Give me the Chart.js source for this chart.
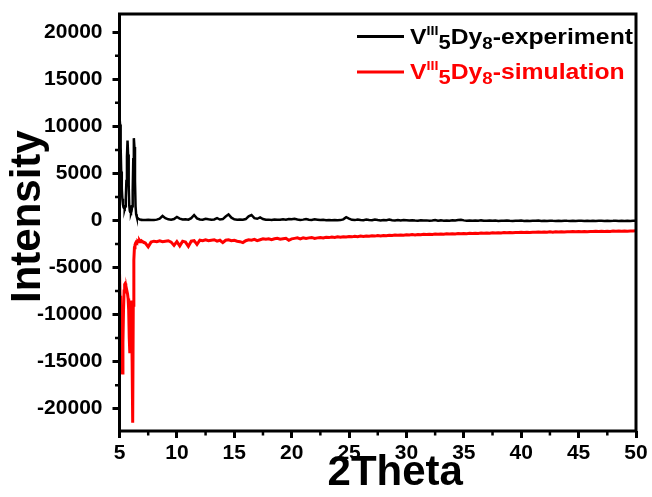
<!DOCTYPE html>
<html>
<head>
<meta charset="utf-8">
<script src="https://cdn.jsdelivr.net/npm/chart.js@4.4.1/dist/chart.umd.min.js"></script>
<style>
  html, body { margin: 0; padding: 0; background: #fff; }
  #c { display: block; }
</style>
</head>
<body>
<canvas id="c" width="652" height="497"></canvas>
<script>
// 2θ positions (degrees): fine steps across the low-angle peaks, then 0.25° steps
const theta = [
  5, 5.05, 5.1, 5.15, 5.2, 5.25, 5.3, 5.35, 5.4, 5.45, 5.5, 5.55, 5.6, 5.65, 5.7, 5.75, 5.8, 5.85, 5.9, 5.95,
  6, 6.05, 6.1, 6.15, 6.2, 6.25, 6.3, 6.35, 6.4, 6.45, 6.5, 6.55, 6.6, 6.65, 6.7, 6.75, 6.8, 6.85, 6.9, 6.95, 7,
  7.25, 7.5, 7.75, 8, 8.25, 8.5, 8.75, 9, 9.25, 9.5, 9.75, 10, 10.25, 10.5, 10.75, 11,
  11.25, 11.5, 11.75, 12, 12.25, 12.5, 12.75, 13, 13.25, 13.5, 13.75, 14, 14.25, 14.5, 14.75, 15,
  15.25, 15.5, 15.75, 16, 16.25, 16.5, 16.75, 17, 17.25, 17.5, 17.75, 18, 18.25, 18.5, 18.75, 19,
  19.25, 19.5, 19.75, 20, 20.25, 20.5, 20.75, 21, 21.25, 21.5, 21.75, 22, 22.25, 22.5, 22.75, 23,
  23.25, 23.5, 23.75, 24, 24.25, 24.5, 24.75, 25, 25.25, 25.5, 25.75, 26, 26.25, 26.5, 26.75, 27,
  27.25, 27.5, 27.75, 28, 28.25, 28.5, 28.75, 29, 29.25, 29.5, 29.75, 30, 30.25, 30.5, 30.75, 31,
  31.25, 31.5, 31.75, 32, 32.25, 32.5, 32.75, 33, 33.25, 33.5, 33.75, 34, 34.25, 34.5, 34.75, 35,
  35.25, 35.5, 35.75, 36, 36.25, 36.5, 36.75, 37, 37.25, 37.5, 37.75, 38, 38.25, 38.5, 38.75, 39,
  39.25, 39.5, 39.75, 40, 40.25, 40.5, 40.75, 41, 41.25, 41.5, 41.75, 42, 42.25, 42.5, 42.75, 43,
  43.25, 43.5, 43.75, 44, 44.25, 44.5, 44.75, 45, 45.25, 45.5, 45.75, 46, 46.25, 46.5, 46.75, 47,
  47.25, 47.5, 47.75, 48, 48.25, 48.5, 48.75, 49, 49.25, 49.5, 49.75, 50
];

// measured powder pattern
const experiment = [
  11000, 10200, 7800, 5200, 3400, 2300, 1700, 1400, 1300, 1250, 1500, 2400, 4200, 6800, 8500, 7000, 3800, 1600, 1000, 850,
  800, 1000, 1500, 3200, 6500, 8750, 7800, 4200, 1500, 650, 400, 300, 250, 180, 150, 120, 100, 90, 80, 70, 60,
  50, 80, 40, 60, 90, 200, 480, 250, 120, 90, 150, 380, 200, 100, 130, 90,
  250, 580, 220, 100, 80, 180, 120, 70, 110, 240, 100, 150, 420, 650, 300, 120,
  90, 110, 80, 150, 450, 580, 250, 180, 320, 150, 70, 90, 60, 110, 80, 70,
  130, 90, 160, 120, 180, 100, 60, 90, 150, 80, 50, 120, 80, 40, 70, 30,
  60, 20, 50, 30, 40, 120, 350, 200, 70, 40, 110, 50, 30, 90, 40, 20,
  100, 40, 10, 60, 20, 90, 30, 10, 50, 0, 40, 20, -10, 30, 0, -20,
  20, -10, 10, -30, 0, 40, -20, 10, -30, 0, -20, 20, -10, 40, 80, 10,
  -20, 0, -40, -10, -30, 10, -20, -40, 0, -30, -10, -50, -20, -40, 0, -30,
  -50, -20, -40, -10, -50, -30, -60, -20, -40, -10, -50, -30, -60, -20, -40, -50,
  -30, -60, -20, -40, -50, -30, -60, -40, -20, -50, -30, -60, -40, -50, -20, -40,
  -60, -30, -50, -40, -20, -50, -40, -60, -30, -50, -40, -40
];

// simulated pattern, plotted inverted below the measured one
const simulation = [
  -5500, -8000, -11500, -14500, -16000, -16200, -13000, -9500, -7500, -6800, -6700, -7200, -7600, -7500, -7800, -8300, -9500, -12500, -14100, -11000,
  -8500, -9500, -15000, -21500, -9000, -4200, -2900, -2600, -2400, -2300, -2350, -2250, -2200, -2250, -2200, -2150, -2250, -2200, -2150, -2200, -2250,
  -2400, -2800, -2300, -2200, -2250, -2150, -2250, -2200, -2150, -2300, -2650, -2250, -2700, -2200, -2300, -2750,
  -2200, -2150, -2550, -2100, -2150, -2050, -2150, -2100, -2050, -2200, -2100, -2350, -2100, -2050, -2150, -2100,
  -2200, -2250, -2350, -2150, -2050, -2100, -2000, -2150, -2050, -1950, -2000, -1950, -2050, -1950, -1900, -2000,
  -1950, -1900, -2100, -1950, -1900, -1850, -1950, -1850, -1900, -1850, -1800, -1900, -1850, -1800, -1850, -1780,
  -1820, -1760, -1800, -1740, -1780, -1720, -1760, -1700, -1740, -1680, -1720, -1660, -1700, -1640, -1680, -1620,
  -1660, -1600, -1640, -1590, -1620, -1570, -1600, -1550, -1580, -1540, -1560, -1520, -1550, -1500, -1530, -1490,
  -1510, -1470, -1500, -1460, -1480, -1440, -1470, -1430, -1450, -1410, -1440, -1400, -1430, -1390, -1420, -1380,
  -1400, -1370, -1390, -1350, -1380, -1340, -1360, -1330, -1350, -1310, -1340, -1300, -1330, -1290, -1310, -1280,
  -1300, -1270, -1290, -1260, -1280, -1250, -1270, -1240, -1260, -1230, -1250, -1220, -1250, -1210, -1240, -1200,
  -1230, -1190, -1220, -1190, -1210, -1180, -1200, -1170, -1200, -1160, -1190, -1160, -1180, -1150, -1170, -1140,
  -1170, -1140, -1160, -1130, -1150, -1120, -1150, -1120, -1140, -1110, -1130, -1100
];

const xTicks = [5, 10, 15, 20, 25, 30, 35, 40, 45, 50];
const xMinorTicks = [7.5, 12.5, 17.5, 22.5, 27.5, 32.5, 37.5, 42.5, 47.5];
const yTicks = [-20000, -15000, -10000, -5000, 0, 5000, 10000, 15000, 20000];
const yMinorTicks = [-22500, -17500, -12500, -7500, -2500, 2500, 7500, 12500, 17500];

// legend labels as rich-text runs: sup = superscript, sub = subscript
const legendLabels = [
  [{ t: 'V' }, { t: 'III', sup: true }, { t: '5', sub: true }, { t: 'Dy' }, { t: '8', sub: true, small: true }, { t: '-experiment' }],
  [{ t: 'V' }, { t: 'III', sup: true }, { t: '5', sub: true }, { t: 'Dy' }, { t: '8', sub: true, small: true }, { t: '-simulation' }]
];
const seriesColors = ['#000000', '#ff0000'];

const FONT = '"Liberation Sans", Arial, Helvetica, sans-serif';

// closed frame around the plot area plus minor ticks on x and y
const framePlugin = {
  id: 'frame',
  afterDraw(chart) {
    const { ctx, chartArea: a, scales } = chart;
    ctx.save();
    ctx.strokeStyle = '#000';
    ctx.lineWidth = 3;
    ctx.strokeRect(a.left, a.top, a.right - a.left, a.bottom - a.top);
    ctx.lineWidth = 2.5;
    ctx.beginPath();
    for (const v of xMinorTicks) {
      const px = scales.x.getPixelForValue(v);
      ctx.moveTo(px, a.bottom);
      ctx.lineTo(px, a.bottom + 4.5);
    }
    for (const v of yMinorTicks) {
      const py = scales.y.getPixelForValue(v);
      if (py < a.top || py > a.bottom) continue;
      ctx.moveTo(a.left, py);
      ctx.lineTo(a.left - 4.5, py);
    }
    ctx.stroke();
    ctx.restore();
  }
};

// legend with line samples and super/subscripted labels
const richLegendPlugin = {
  id: 'richLegend',
  afterDraw(chart) {
    const { ctx } = chart;
    const rows = [{ lineY: 36.5, base: 43.5 }, { lineY: 72, base: 78.5 }];
    ctx.save();
    chart.data.datasets.forEach((ds, i) => {
      const r = rows[i];
      ctx.strokeStyle = ds.borderColor;
      ctx.lineWidth = 3;
      ctx.beginPath();
      ctx.moveTo(357, r.lineY);
      ctx.lineTo(404, r.lineY);
      ctx.stroke();

      ctx.fillStyle = ds.borderColor;
      ctx.textBaseline = 'alphabetic';
      ctx.textAlign = 'left';
      ctx.save();
      ctx.translate(410, 0);
      ctx.scale(1.1, 1);
      let x = 0;
      for (const run of legendLabels[i]) {
        let size = 22.5, dy = 0;
        if (run.sup) { size = 13; dy = -9; }
        else if (run.sub) { size = run.small ? 17 : 20; dy = 5.5; }
        ctx.font = `bold ${size}px ${FONT}`;
        ctx.fillText(run.t, x, r.base + dy);
        x += ctx.measureText(run.t).width;
      }
      ctx.restore();
    });
    ctx.restore();
  }
};

const tickFont = { family: FONT, size: 21, weight: 'bold' };
const titleFont = { family: FONT, size: 42, weight: 'bold' };

// keep the plot box fixed: no extra room reserved for the end tick labels
const noLabelOverflowV = s => { s.width = 119.5; s.paddingTop = 0; s.paddingBottom = 0; };
const noLabelOverflowH = s => { s.height = 66; s.paddingLeft = 0; s.paddingRight = 0; };

new Chart(document.getElementById('c'), {
  type: 'line',
  data: {
    datasets: [
      {
        label: 'experiment',
        data: theta.map((t, i) => ({ x: t, y: experiment[i] })),
        borderColor: seriesColors[0],
        borderWidth: 2.5,
        pointRadius: 0,
        tension: 0
      },
      {
        label: 'simulation',
        data: theta.map((t, i) => ({ x: t, y: simulation[i] })),
        borderColor: seriesColors[1],
        borderWidth: 3,
        pointRadius: 0,
        tension: 0
      }
    ]
  },
  options: {
    responsive: false,
    animation: false,
    devicePixelRatio: 1,
    layout: { autoPadding: false, padding: { top: 14, right: 16, left: 0, bottom: 0 } },
    plugins: { legend: { display: false }, tooltip: { enabled: false } },
    scales: {
      x: {
        type: 'linear',
        min: 5,
        max: 50,
        afterBuildTicks: s => { s.ticks = xTicks.map(v => ({ value: v })); },
        afterFit: noLabelOverflowH,
        border: { display: false },
        grid: { drawOnChartArea: false, drawTicks: true, tickLength: 7, tickWidth: 3, tickColor: '#000' },
        ticks: { color: '#000', font: tickFont, padding: 3, maxRotation: 0, autoSkip: false, callback: v => String(v) },
        title: { display: true, text: '   2Theta', color: '#000', font: titleFont, padding: { top: 0, bottom: -2 } }
      },
      y: {
        type: 'linear',
        min: -22370,
        max: 21940,
        afterBuildTicks: s => { s.ticks = yTicks.map(v => ({ value: v })); },
        afterFit: noLabelOverflowV,
        border: { display: false },
        grid: { drawOnChartArea: false, drawTicks: true, tickLength: 7, tickWidth: 3, tickColor: '#000' },
        ticks: { color: '#000', font: tickFont, padding: 10, autoSkip: false, callback: v => String(v) },
        title: { display: true, text: ' Intensity', color: '#000', font: titleFont, padding: { top: 3, bottom: 0 } }
      }
    }
  },
  plugins: [framePlugin, richLegendPlugin]
});
</script>
</body>
</html>
